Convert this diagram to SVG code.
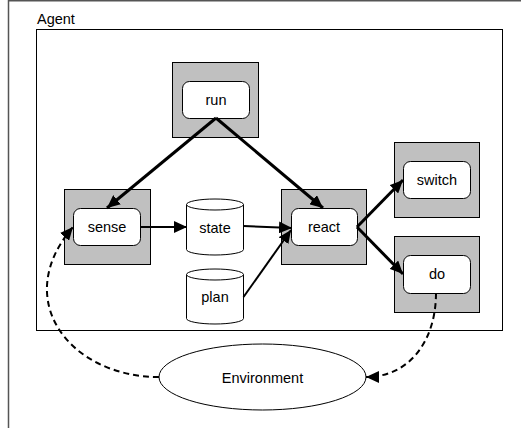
<svg xmlns="http://www.w3.org/2000/svg" width="521" height="428" viewBox="0 0 521 428">
<style>
text{font-family:"Liberation Sans",Arial,sans-serif;font-size:14.5px;fill:#000;text-anchor:middle}
.g{fill:#c0c0c0;stroke:#000;stroke-width:1}
.w{fill:#fff;stroke:#000;stroke-width:1}
.c{fill:none;stroke:#000}
.thick{stroke-width:3}
.mid{stroke-width:2}
.dash{stroke-width:2;stroke-dasharray:6,4}
</style>
<defs>
<marker id="ah" markerUnits="userSpaceOnUse" markerWidth="14" markerHeight="12" refX="13" refY="6" orient="auto">
<path d="M0,0 L13,6 L0,12 Z" fill="#000"/>
</marker>
</defs>
<rect x="0" y="0" width="521" height="428" fill="#fff"/>
<g id="frame">
<path d="M8.5,428 V0.8 H521" fill="none" stroke="#555" stroke-width="1.5"/>
</g>
<g id="agent">
<rect x="36.5" y="29.5" width="466" height="301" fill="#fff" stroke="#000" stroke-width="1"/>
<text x="37" y="24" style="text-anchor:start">Agent</text>
</g>
<g id="run">
<rect class="g" x="172.5" y="62.5" width="86" height="75"/>
<rect class="w" x="182.5" y="81.5" width="67" height="37" rx="7"/>
<text x="216" y="105">run</text>
</g>
<g id="sense">
<rect class="g" x="64.5" y="189.5" width="86" height="75"/>
<rect class="w" x="73.5" y="208.5" width="67" height="37" rx="7"/>
<text x="107" y="232">sense</text>
</g>
<g id="react">
<rect class="g" x="281.5" y="189.5" width="85" height="75"/>
<rect class="w" x="291.5" y="208.5" width="66" height="37" rx="7"/>
<text x="324" y="232">react</text>
</g>
<g id="switch">
<rect class="g" x="394.5" y="142.5" width="85" height="75"/>
<rect class="w" x="403.5" y="161.5" width="67" height="37" rx="7"/>
<text x="437" y="185">switch</text>
</g>
<g id="do">
<rect class="g" x="394.5" y="236.5" width="85" height="76"/>
<rect class="w" x="403.5" y="255.5" width="67" height="38" rx="7"/>
<text x="437" y="279">do</text>
</g>
<g id="state">
<path class="w" d="M186.5,204.5 V249.5 A28.5,5.5 0 0 0 243.5,249.5 V204.5 A28.5,5.5 0 0 0 186.5,204.5 Z"/>
<path class="w" d="M186.5,204.5 A28.5,5.5 0 0 0 243.5,204.5" fill="none"/>
<text x="215" y="233">state</text>
</g>
<g id="plan">
<path class="w" d="M186.5,274.5 V318.5 A28.5,5.5 0 0 0 243.5,318.5 V274.5 A28.5,5.5 0 0 0 186.5,274.5 Z"/>
<path class="w" d="M186.5,274.5 A28.5,5.5 0 0 0 243.5,274.5" fill="none"/>
<text x="215" y="302">plan</text>
</g>
<g id="environment">
<ellipse class="w" cx="262.5" cy="377" rx="103.5" ry="33"/>
<text x="262.5" y="383">Environment</text>
</g>
<g id="connectors">
<line class="c thick" x1="216" y1="118" x2="107" y2="208" marker-end="url(#ah)"/>
<line class="c thick" x1="216" y1="118" x2="323" y2="208" marker-end="url(#ah)"/>
<line class="c mid" x1="140" y1="227" x2="187" y2="227" marker-end="url(#ah)"/>
<line class="c mid" x1="243.5" y1="226" x2="292" y2="228" marker-end="url(#ah)"/>
<line class="c mid" x1="243.5" y1="297" x2="291" y2="230" marker-end="url(#ah)"/>
<line class="c thick" x1="357" y1="227" x2="403" y2="180" marker-end="url(#ah)"/>
<line class="c thick" x1="357" y1="227" x2="403" y2="274" marker-end="url(#ah)"/>
<path class="c dash" d="M159,377 C70,377 10,300 73,227" marker-end="url(#ah)"/>
<path class="c dash" d="M436,293 C436,340 410,377 366,377" marker-end="url(#ah)"/>
</g>
</svg>
